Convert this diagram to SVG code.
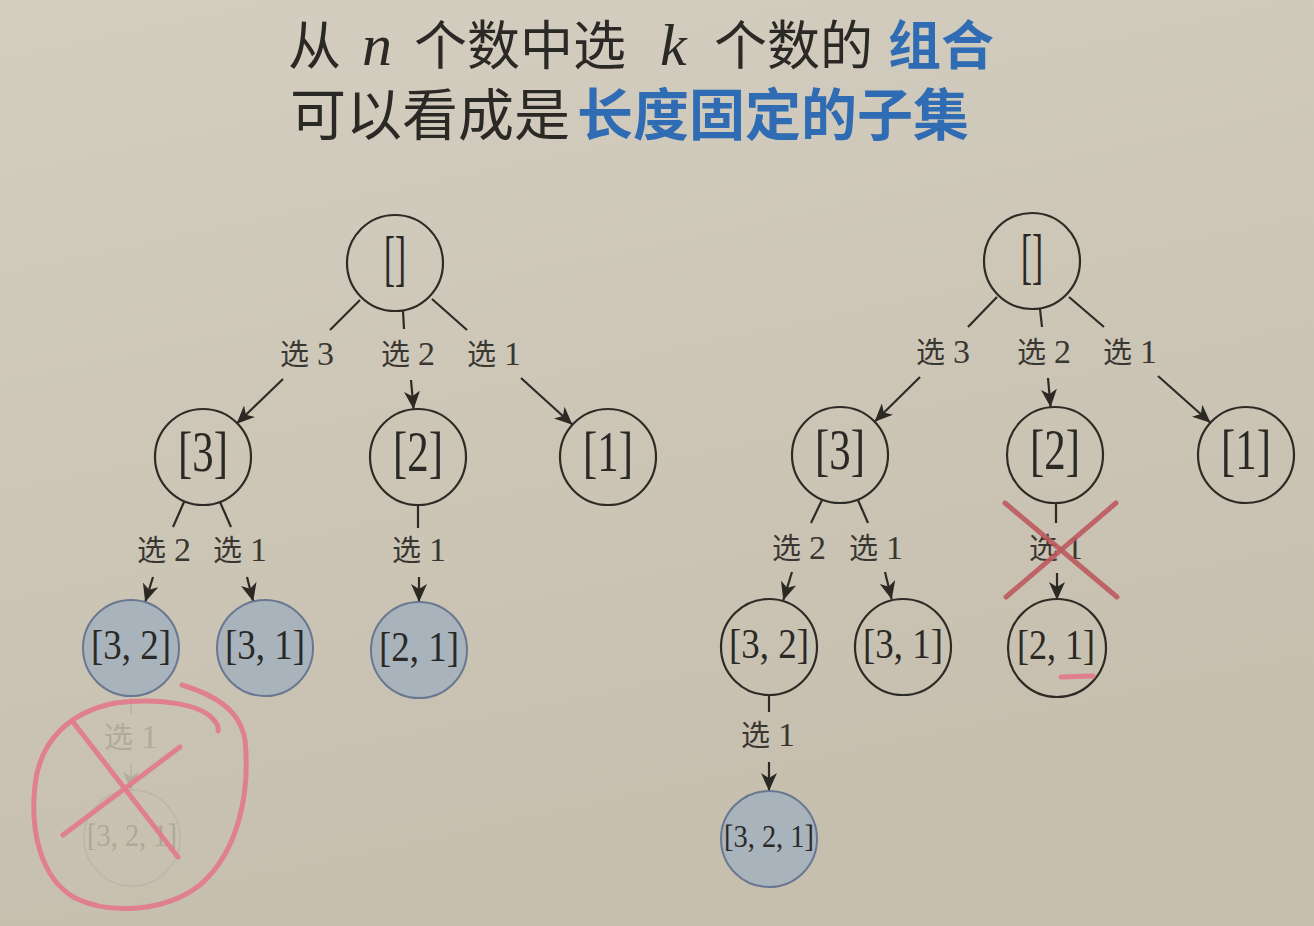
<svg xmlns="http://www.w3.org/2000/svg" width="1314" height="926" viewBox="0 0 1314 926">
<defs>
<linearGradient id="bg" x1="0" y1="0" x2="0.3" y2="1">
<stop offset="0" stop-color="#d4cec1"/>
<stop offset="1" stop-color="#c6bfae"/>
</linearGradient>
<marker id="ah" markerUnits="userSpaceOnUse" markerWidth="18" markerHeight="16" refX="18" refY="8" orient="auto">
<path d="M0,0 L18,8 L0,16 L5,8 z" fill="#2c2925"/>
</marker>
<marker id="ahg" markerUnits="userSpaceOnUse" markerWidth="18" markerHeight="16" refX="18" refY="8" orient="auto">
<path d="M0,0 L18,8 L0,16 L5,8 z" fill="#b3ad9e"/>
</marker>
</defs>
<style>
.title{font-family:"Noto Sans CJK SC","Noto Sans",sans-serif;fill:#2b2926}
.blue{fill:#2f6cb4;font-weight:bold}
.math{font-family:"Liberation Serif",serif;font-style:italic}
.n{fill:none;stroke:#2e2b27;stroke-width:2.2}
.f{fill:#a9b3bc;stroke:#6a7791;stroke-width:2}
.g{fill:none;stroke:#bcb6a7;stroke-width:1.5}
.t{font-family:"Liberation Serif",serif;fill:#2b2926;text-anchor:middle}
.tg{font-family:"Liberation Serif",serif;fill:#aea897;text-anchor:middle}
.e{stroke:#2e2b27;stroke-width:2.2;fill:none}
.a{stroke:#2e2b27;stroke-width:2.2;fill:none;marker-end:url(#ah)}
.eg{stroke:#b8b2a3;stroke-width:1.5;fill:none}
.ag{stroke:#b8b2a3;stroke-width:1.5;fill:none;marker-end:url(#ahg)}
.l{font-family:"Noto Sans CJK SC",sans-serif;font-size:29px;fill:#3a3632;text-anchor:middle}
.lg{font-family:"Noto Sans CJK SC",sans-serif;font-size:29px;fill:#b0aa9b;text-anchor:middle}
.d{font-family:"Liberation Serif",serif;font-size:34px}
.pink{stroke:#e27a8d;stroke-width:5;fill:none;stroke-linecap:round;opacity:0.92}
.red{stroke:#bd5a5e;stroke-width:5;fill:none;stroke-linecap:round;opacity:0.9}
</style>
<rect width="1314" height="926" fill="url(#bg)"/>

<g id="title">
<text class="title" y="65" font-size="53"><tspan x="288">从</tspan><tspan class="math" x="362" font-size="60">n</tspan><tspan x="414">个数中选</tspan><tspan class="math" x="660" font-size="60">k</tspan><tspan x="714">个数的</tspan><tspan class="blue" x="888">组合</tspan></text>
<text class="title" y="135" font-size="56"><tspan x="290">可以看成是</tspan><tspan class="blue" x="577">长度固定的子集</tspan></text>
</g>

<g id="connectors">
<!-- left tree -->
<line class="e" x1="360" y1="300" x2="330" y2="330"/>
<line class="e" x1="403" y1="311" x2="404" y2="329"/>
<line class="e" x1="432" y1="299" x2="467" y2="330"/>
<line class="a" x1="283" y1="379" x2="236.6" y2="423.7"/>
<line class="a" x1="411" y1="380" x2="413.6" y2="409.2"/>
<line class="a" x1="521" y1="378" x2="572.5" y2="424.7"/>
<line class="e" x1="184" y1="502" x2="173" y2="527"/>
<line class="e" x1="220" y1="502" x2="231" y2="527"/>
<line class="e" x1="418" y1="505" x2="418" y2="528"/>
<line class="a" x1="153" y1="577" x2="145.2" y2="602.1"/>
<line class="a" x1="247" y1="577" x2="253.2" y2="601.4"/>
<line class="a" x1="419" y1="577" x2="419" y2="602"/>
<line class="eg" x1="131" y1="697" x2="131" y2="714"/>
<line class="ag" x1="131" y1="763" x2="131" y2="790"/>
<!-- right tree -->
<line class="e" x1="997" y1="297" x2="968" y2="327"/>
<line class="e" x1="1040" y1="309" x2="1042" y2="327"/>
<line class="e" x1="1069" y1="297" x2="1104" y2="327"/>
<line class="a" x1="920" y1="377" x2="874.6" y2="421.7"/>
<line class="a" x1="1048" y1="378" x2="1050.6" y2="407.2"/>
<line class="a" x1="1158" y1="376" x2="1210.5" y2="422.7"/>
<line class="e" x1="822" y1="500" x2="811" y2="523"/>
<line class="e" x1="858" y1="500" x2="868" y2="523"/>
<line class="e" x1="1056" y1="503" x2="1056" y2="523"/>
<line class="a" x1="792" y1="572" x2="783.3" y2="600.2"/>
<line class="a" x1="885" y1="572" x2="891.7" y2="599.4"/>
<line class="a" x1="1057" y1="573" x2="1057" y2="600"/>
<line class="e" x1="769" y1="695" x2="769" y2="712"/>
<line class="a" x1="769" y1="762" x2="769" y2="791"/>
</g>

<g id="labels">
<text class="l" x="307" y="365">选<tspan class="d" dx="8">3</tspan></text>
<text class="l" x="408" y="365">选<tspan class="d" dx="8">2</tspan></text>
<text class="l" x="494" y="365">选<tspan class="d" dx="8">1</tspan></text>
<text class="l" x="164" y="561">选<tspan class="d" dx="8">2</tspan></text>
<text class="l" x="240" y="561">选<tspan class="d" dx="8">1</tspan></text>
<text class="l" x="419" y="561">选<tspan class="d" dx="8">1</tspan></text>
<text class="lg" x="131" y="748">选<tspan class="d" dx="8">1</tspan></text>
<text class="l" x="943" y="363">选<tspan class="d" dx="8">3</tspan></text>
<text class="l" x="1044" y="363">选<tspan class="d" dx="8">2</tspan></text>
<text class="l" x="1130" y="363">选<tspan class="d" dx="8">1</tspan></text>
<text class="l" x="799" y="559">选<tspan class="d" dx="8">2</tspan></text>
<text class="l" x="876" y="559">选<tspan class="d" dx="8">1</tspan></text>
<text class="l" x="1056" y="559">选<tspan class="d" dx="8">1</tspan></text>
<text class="l" x="768" y="746">选<tspan class="d" dx="8">1</tspan></text>
</g>

<!-- left tree nodes -->
<g id="L_root"><circle class="n" cx="395" cy="263" r="48"/><text class="t" x="395" y="279" font-size="62" textLength="22" lengthAdjust="spacingAndGlyphs">[]</text></g>
<g id="L_3"><circle class="n" cx="203" cy="457" r="48"/><text class="t" x="203" y="471" font-size="56" textLength="50" lengthAdjust="spacingAndGlyphs">[3]</text></g>
<g id="L_2"><circle class="n" cx="418" cy="457" r="48"/><text class="t" x="418" y="471" font-size="56" textLength="50" lengthAdjust="spacingAndGlyphs">[2]</text></g>
<g id="L_1"><circle class="n" cx="608" cy="457" r="48"/><text class="t" x="608" y="471" font-size="56" textLength="50" lengthAdjust="spacingAndGlyphs">[1]</text></g>
<g id="L_32"><circle class="f" cx="131" cy="648" r="48"/><text class="t" x="131" y="659" font-size="42" textLength="80" lengthAdjust="spacingAndGlyphs">[3, 2]</text></g>
<g id="L_31"><circle class="f" cx="265" cy="648" r="48"/><text class="t" x="265" y="659" font-size="42" textLength="80" lengthAdjust="spacingAndGlyphs">[3, 1]</text></g>
<g id="L_21"><circle class="f" cx="419" cy="650" r="48"/><text class="t" x="419" y="661" font-size="42" textLength="80" lengthAdjust="spacingAndGlyphs">[2, 1]</text></g>
<g id="L_321"><circle class="g" cx="132" cy="838" r="48"/><text class="tg" x="132" y="846" font-size="31" textLength="90" lengthAdjust="spacingAndGlyphs">[3, 2, 1]</text></g>

<!-- right tree nodes -->
<g id="R_root"><circle class="n" cx="1032" cy="261" r="48"/><text class="t" x="1032" y="277" font-size="62" textLength="22" lengthAdjust="spacingAndGlyphs">[]</text></g>
<g id="R_3"><circle class="n" cx="840" cy="455" r="48"/><text class="t" x="840" y="469" font-size="56" textLength="50" lengthAdjust="spacingAndGlyphs">[3]</text></g>
<g id="R_2"><circle class="n" cx="1055" cy="455" r="48"/><text class="t" x="1055" y="469" font-size="56" textLength="50" lengthAdjust="spacingAndGlyphs">[2]</text></g>
<g id="R_1"><circle class="n" cx="1246" cy="455" r="48"/><text class="t" x="1246" y="469" font-size="56" textLength="50" lengthAdjust="spacingAndGlyphs">[1]</text></g>
<g id="R_32"><circle class="n" cx="769" cy="647" r="48"/><text class="t" x="769" y="658" font-size="42" textLength="80" lengthAdjust="spacingAndGlyphs">[3, 2]</text></g>
<g id="R_31"><circle class="n" cx="903" cy="647" r="48"/><text class="t" x="903" y="658" font-size="42" textLength="80" lengthAdjust="spacingAndGlyphs">[3, 1]</text></g>
<g id="R_21"><circle class="n" cx="1057" cy="648" r="49"/><text class="t" x="1056" y="659" font-size="42" textLength="78" lengthAdjust="spacingAndGlyphs">[2, 1]</text></g>
<g id="R_321"><circle class="f" cx="769" cy="839" r="48"/><text class="t" x="769" y="847" font-size="31" textLength="90" lengthAdjust="spacingAndGlyphs">[3, 2, 1]</text></g>

<g id="annotations">
<path class="pink" d="M182,685 C215,695 240,710 245,740 C250,790 240,850 200,885 C165,912 110,915 75,898 C40,878 30,830 35,785 C40,740 70,712 115,703 C160,697 200,705 212,718 C218,724 219,728 218,731"/>
<line class="pink" x1="73" y1="722" x2="178" y2="857"/>
<line class="pink" x1="180" y1="747" x2="63" y2="835"/>
<line class="red" x1="1005" y1="503" x2="1117" y2="597"/>
<line class="red" x1="1116" y1="503" x2="1006" y2="597"/>
<line class="pink" x1="1061" y1="677" x2="1093" y2="676" stroke-width="4"/>
</g>
</svg>
